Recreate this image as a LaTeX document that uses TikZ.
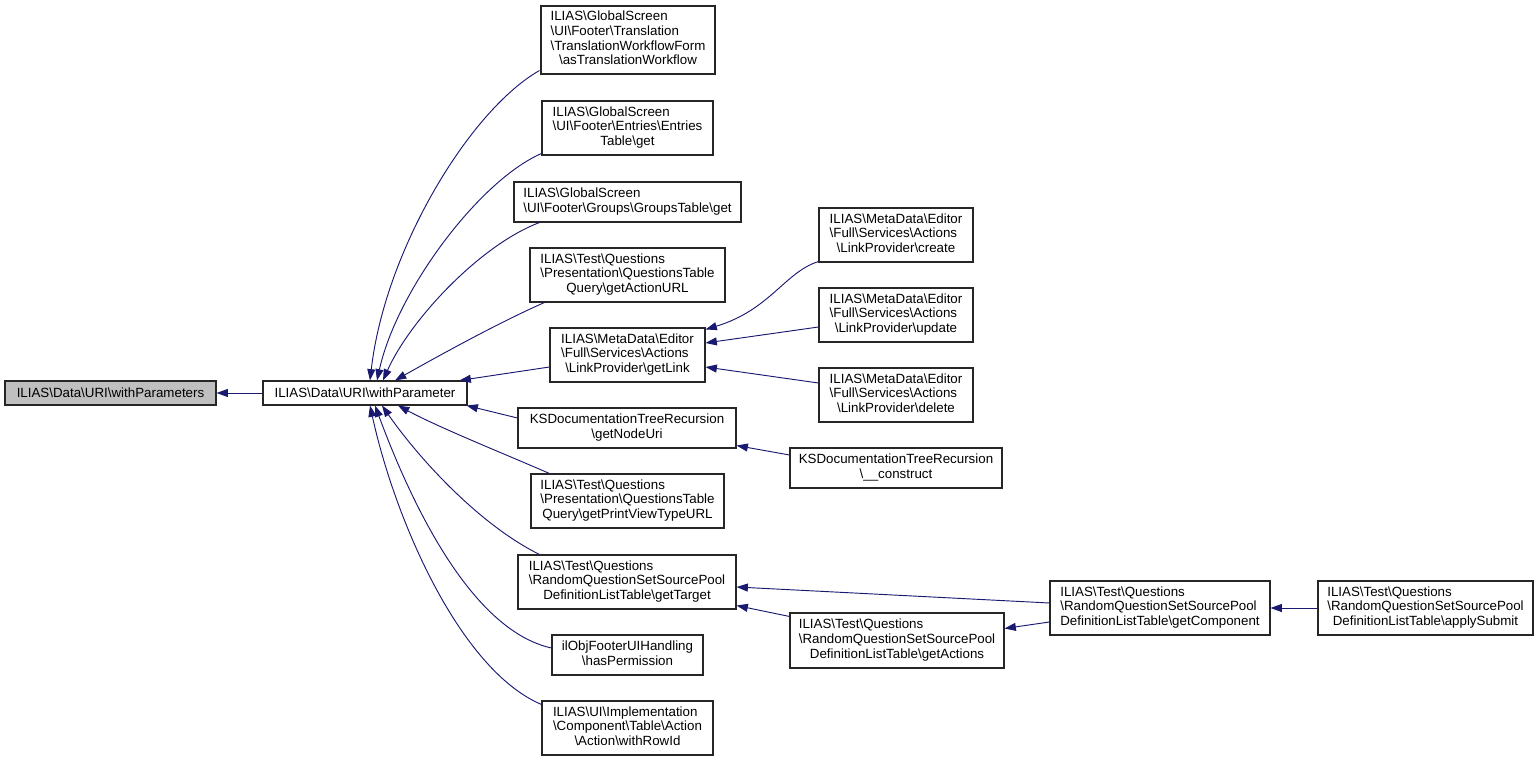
\documentclass[tikz,border=0pt]{standalone}
\usepackage{fontspec}
\setmainfont{Liberation Sans}
\usetikzlibrary{arrows.meta,calc}
\definecolor{edgeblue}{HTML}{191970}
\definecolor{boxgray}{HTML}{BFBFBF}
\newcommand\BSx{\textbackslash}
\newcommand\DLines[2]{\begin{tabular}{@{}l@{}}#1\\\multicolumn{1}{@{}c@{}}{#2}\end{tabular}}
\begin{document}
\begin{tikzpicture}[x=0.75pt,y=-0.75pt,
  box/.style={draw=black!85, line width=0.8pt, fill=white, inner sep=0pt, align=center,
    font=\fontsize{10}{11}\selectfont},
  sz/.style 2 args={minimum width=#1*0.75pt, minimum height=#2*0.75pt},
  edge/.style={draw=edgeblue, line width=0.7pt, -{Triangle[length=8.5pt,width=6pt]}}]
\useasboundingbox (0,0) rectangle (1539,762);

% nodes
\node[box, sz={211}{24}, fill=boxgray] (wps) at (110.5,393) {ILIAS\BSx Data\BSx URI\BSx withParameters};
\node[box, sz={204}{24}] (wp) at (365,393) {ILIAS\BSx Data\BSx URI\BSx withParameter};

\node[box, sz={174}{68}] (trans) at (628,40) {\DLines{ILIAS\BSx GlobalScreen\\\BSx UI\BSx Footer\BSx Translation\\\BSx TranslationWorkflowForm}{\BSx asTranslationWorkflow}};
\node[box, sz={171}{54}] (entries) at (627.5,128) {\DLines{ILIAS\BSx GlobalScreen\\\BSx UI\BSx Footer\BSx Entries\BSx Entries}{Table\BSx get}};
\node[box, sz={227}{40}] (groups) at (627.5,202) {\DLines{ILIAS\BSx GlobalScreen}{\BSx UI\BSx Footer\BSx Groups\BSx GroupsTable\BSx get}};
\node[box, sz={195}{54}] (actionurl) at (627.5,275) {\DLines{ILIAS\BSx Test\BSx Questions\\\BSx Presentation\BSx QuestionsTable}{Query\BSx getActionURL}};
\node[box, sz={155}{54}] (getlink) at (627.5,355) {\DLines{ILIAS\BSx MetaData\BSx Editor\\\BSx Full\BSx Services\BSx Actions}{\BSx LinkProvider\BSx getLink}};
\node[box, sz={218}{40}] (nodeuri) at (627,428) {\DLines{KSDocumentationTreeRecursion}{\BSx getNodeUri}};
\node[box, sz={193}{54}] (printview) at (627.5,501) {\DLines{ILIAS\BSx Test\BSx Questions\\\BSx Presentation\BSx QuestionsTable}{Query\BSx getPrintViewTypeURL}};
\node[box, sz={218}{54}] (target) at (627,582) {\DLines{ILIAS\BSx Test\BSx Questions\\\BSx RandomQuestionSetSourcePool}{DefinitionListTable\BSx getTarget}};
\node[box, sz={151}{40}] (hasperm) at (627.5,655) {\DLines{ilObjFooterUIHandling}{\BSx hasPermission}};
\node[box, sz={171}{54}] (rowid) at (627.5,728) {\DLines{ILIAS\BSx UI\BSx Implementation\\\BSx Component\BSx Table\BSx Action}{\BSx Action\BSx withRowId}};

\node[box, sz={154}{54}] (create) at (896,235) {\DLines{ILIAS\BSx MetaData\BSx Editor\\\BSx Full\BSx Services\BSx Actions}{\BSx LinkProvider\BSx create}};
\node[box, sz={154}{54}] (update) at (896,315) {\DLines{ILIAS\BSx MetaData\BSx Editor\\\BSx Full\BSx Services\BSx Actions}{\BSx LinkProvider\BSx update}};
\node[box, sz={154}{54}] (delete) at (896,395) {\DLines{ILIAS\BSx MetaData\BSx Editor\\\BSx Full\BSx Services\BSx Actions}{\BSx LinkProvider\BSx delete}};
\node[box, sz={212}{40}] (construct) at (896,468) {\DLines{KSDocumentationTreeRecursion}{\BSx\_\_construct}};
\node[box, sz={214}{55}] (actions) at (897,640.5) {\DLines{ILIAS\BSx Test\BSx Questions\\\BSx RandomQuestionSetSourcePool}{DefinitionListTable\BSx getActions}};
\node[box, sz={220}{54}] (component) at (1160,608) {\DLines{ILIAS\BSx Test\BSx Questions\\\BSx RandomQuestionSetSourcePool}{DefinitionListTable\BSx getComponent}};
\node[box, sz={215}{54}] (submit) at (1425.5,608) {\DLines{ILIAS\BSx Test\BSx Questions\\\BSx RandomQuestionSetSourcePool}{DefinitionListTable\BSx applySubmit}};

% edges
\draw[edge] (wp.west) -- (wps.east);

\draw[edge] ($(trans.south west)+(-1,-4)$) .. controls (470,110) and (385,250) .. ($(wp.north)+(5,0)$);
\draw[edge] ($(entries.south west)+(0,-2)$) .. controls (480,180) and (397,290) .. ($(wp.north)+(12,0)$);
\draw[edge] ($(groups.south west)+(26,0)$) .. controls (480,245) and (410,320) .. ($(wp.north)+(18,0)$);
\draw[edge] ($(actionurl.south west)+(15,0)$) .. controls (500,322) and (440,355) .. ($(wp.north)+(30,0)$);
\draw[edge] ($(getlink.west)+(0,12)$) -- ($(wp.north east)+(-8,0)$);
\draw[edge] ($(nodeuri.west)+(0,-10)$) -- ($(wp.south east)+(-1,0)$);
\draw[edge] ($(printview.north west)+(19,0)$) .. controls (500,452) and (440,428) .. ($(wp.south)+(33,0)$);
\draw[edge] ($(target.north west)+(22,0)$) .. controls (480,525) and (420,460) .. ($(wp.south)+(17,0)$);
\draw[edge] ($(hasperm.west)+(0,-7)$) .. controls (470,630) and (410,500) .. ($(wp.south)+(10,0)$);
\draw[edge] ($(rowid.north west)+(0,4)$) .. controls (460,670) and (395,520) .. ($(wp.south)+(5,0)$);

\draw[edge] ($(create.south west)+(0,-1)$) .. controls (785,272) and (770,310) .. ($(getlink.north east)+(0,2)$);
\draw[edge] ($(update.west)+(0,12)$) -- ($(getlink.east)+(0,-12)$);
\draw[edge] ($(delete.west)+(0,-12)$) -- ($(getlink.east)+(0,12)$);
\draw[edge] ($(construct.west)+(0,-13)$) -- ($(nodeuri.south east)+(0,-3)$);
\draw[edge] ($(component.west)+(0,-5)$) -- ($(target.east)+(0,5)$);
\draw[edge] ($(actions.north west)+(0,4)$) -- ($(target.south east)+(0,-4)$);
\draw[edge] ($(component.west)+(0,14)$) -- ($(actions.east)+(0,-12)$);
\draw[edge] (submit.west) -- (component.east);
\end{tikzpicture}
\end{document}
